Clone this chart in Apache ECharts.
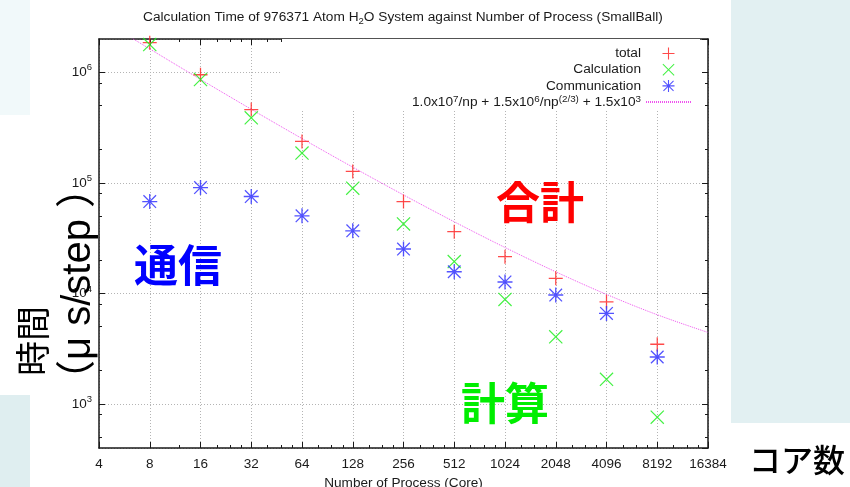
<!DOCTYPE html>
<html>
<head>
<meta charset="utf-8">
<script src="https://cdn.jsdelivr.net/npm/echarts@6/dist/echarts.min.js"></script>
<style>
  html, body { margin: 0; padding: 0; background: #ffffff; }
  #chart { width: 850px; height: 487px; }
</style>
</head>
<body>
<div id="chart"></div>
<script>
// Process counts (cores) and measured time per step in microseconds
const npValues = [8, 16, 32, 64, 128, 256, 512, 1024, 2048, 4096, 8192];
const totalTime = [1.85e6, 9.5e5, 4.6e5, 2.37e5, 1.27e5, 6.77e4, 3.62e4, 2.15e4, 1.37e4, 8.4e3, 3.47e3];
const calcTime  = [1.78e6, 8.6e5, 3.87e5, 1.86e5, 8.96e4, 4.25e4, 1.94e4, 8.83e3, 4.05e3, 1.67e3, 760];
const commTime  = [6.77e4, 9.06e4, 7.52e4, 5.03e4, 3.68e4, 2.52e4, 1.57e4, 1.27e4, 9.67e3, 6.6e3, 2.66e3];

// Model curve 1.0x10^7/np + 1.5x10^6/np^(2/3) + 1.5x10^3 at each power of two
const fitNp   = [4, 8, 16, 32, 64, 128, 256, 512, 1024, 2048, 4096, 8192, 16384];
const fitTime = [3096784, 1626500, 862735, 462819, 251500, 138684, 77768, 44469, 26031, 15684, 9800, 6412, 4435];

// Axis tick values
const xMinorTicks = [12, 20, 24, 28, 40, 48, 56, 80, 96, 112, 160, 192, 224, 320, 384, 448,
                     640, 768, 896, 1280, 1536, 1792, 2560, 3072, 3584, 5120, 6144, 7168,
                     10240, 12288, 14336];
const yMinorTicks = [500, 800, 2000, 5000, 8000, 20000, 50000, 80000, 200000, 500000, 800000];

const seriesNames = ['total', 'Calculation', 'Communication', 'fit'];

const X_MIN = 4, X_MAX = 16384, Y_MIN = 400, Y_MAX = 2e6;
const FONT = '"Liberation Sans", Arial, sans-serif';
const CJK = '"Noto Sans CJK JP", "Noto Sans", sans-serif';
const INK = '#1a1a1a';

const plusPath  = 'path://M0,4.55H10V5.45H0Z M4.55,0H5.45V10H4.55Z';
const crossPath = 'path://M0.6,0L10,9.4L9.4,10L0,0.6Z M9.4,0L10,0.6L0.6,10L0,9.4Z';
const starPath  = 'path://M0,4.55H10V5.45H0Z M4.55,0H5.45V10H4.55Z M1.1,0.5L9.5,8.9L8.9,9.5L0.5,1.1Z M8.9,0.5L9.5,1.1L1.1,9.5L0.5,8.9Z';

function pairs(xs, ys) { return xs.map((x, i) => [x, ys[i]]); }

function xAxisBase(extra) {
  return Object.assign({
    type: 'log', logBase: 2, min: X_MIN, max: X_MAX, interval: 1, splitNumber: 12,
    gridIndex: 0
  }, extra);
}
function yAxisBase(extra) {
  return Object.assign({
    type: 'log', logBase: 10, min: Y_MIN, max: Y_MAX, gridIndex: 0
  }, extra);
}

const hidden = { show: false };
const majorTick = { show: true, inside: true, length: 6, lineStyle: { color: INK, width: 1 } };

const chart = echarts.init(document.getElementById('chart'), null, { renderer: 'canvas' });

chart.setOption({
  animation: false,
  backgroundColor: '#ffffff',
  title: {
    text: 'Calculation Time of 976371 Atom H{sub|2}O System against Number of Process (SmallBall)',
    left: 143,
    top: 9,
    padding: 0,
    textStyle: {
      fontFamily: FONT, fontSize: 13.7, fontWeight: 'normal', color: INK,
      rich: { sub: { fontFamily: FONT, fontSize: 9.5, color: INK, verticalAlign: 'bottom', padding: [7, 0, 0, 0] } }
    }
  },
  legend: {
    orient: 'vertical',
    align: 'right',
    right: 150,
    top: 39,
    padding: [7, 8, 0, 130],
    backgroundColor: '#ffffff',
    itemWidth: 45,
    itemHeight: 12,
    itemGap: 1.2,
    selectedMode: false,
    data: [
      seriesNames[0], seriesNames[1], seriesNames[2],
      { name: seriesNames[3], itemStyle: { opacity: 0, color: 'transparent', borderColor: 'transparent' } }
    ],
    formatter: function (name) {
      if (name === 'fit') {
        return '1.0x10{sup|7}/np + 1.5x10{sup|6}/np{sup|(2/3)} + 1.5x10{sup|3}';
      }
      return name;
    },
    textStyle: {
      fontFamily: FONT, fontSize: 13.7, color: INK, lineHeight: 15,
      rich: { sup: { fontFamily: FONT, fontSize: 9.8, color: INK, verticalAlign: 'top', lineHeight: 15 } }
    }
  },
  grid: { left: 99, right: 142, top: 39, bottom: 39, containLabel: false, outerBoundsMode: 'none' },
  xAxis: [
    xAxisBase({
      position: 'bottom',
      name: 'Number of Process (Core)',
      nameLocation: 'middle',
      nameGap: 26,
      nameTextStyle: { fontFamily: FONT, fontSize: 13.6, color: INK },
      axisLine: { show: true, lineStyle: { color: INK, width: 1.5 } },
      axisTick: majorTick,
      axisLabel: {
        show: true, margin: 9, fontFamily: FONT, fontSize: 13.5, color: INK,
        formatter: function (v) { return String(Math.round(v)); }
      },
      splitLine: { show: true, lineStyle: { type: [1, 2], color: '#b4b4b4', width: 1 } },
      minorTick: hidden
    }),
    xAxisBase({
      position: 'top',
      axisLine: { show: true, lineStyle: { color: INK, width: 1.5 } },
      axisTick: majorTick,
      axisLabel: hidden, splitLine: hidden
    }),
    xAxisBase({
      position: 'bottom',
      axisLine: hidden,
      axisTick: { show: true, inside: true, length: 3, customValues: xMinorTicks, lineStyle: { color: INK, width: 1 } },
      axisLabel: hidden, splitLine: hidden
    }),
    xAxisBase({
      position: 'top',
      axisLine: hidden,
      axisTick: { show: true, inside: true, length: 3, customValues: xMinorTicks, lineStyle: { color: INK, width: 1 } },
      axisLabel: hidden, splitLine: hidden
    })
  ],
  yAxis: [
    yAxisBase({
      position: 'left',
      axisLine: { show: true, lineStyle: { color: INK, width: 1.5 } },
      axisTick: majorTick,
      axisLabel: {
        show: true, margin: 7, showMinLabel: false, showMaxLabel: false,
        fontFamily: FONT, fontSize: 13.5, color: INK,
        formatter: function (v) { return '10{sup|' + Math.round(Math.log10(v)) + '}'; },
        rich: { sup: { fontFamily: FONT, fontSize: 9.5, color: INK, verticalAlign: 'top', lineHeight: 19 } }
      },
      splitLine: { show: true, lineStyle: { type: [1, 2], color: '#b4b4b4', width: 1 } }
    }),
    yAxisBase({
      position: 'right',
      axisLine: { show: true, lineStyle: { color: INK, width: 1.5 } },
      axisTick: majorTick,
      axisLabel: hidden, splitLine: hidden
    }),
    yAxisBase({
      position: 'left',
      axisLine: hidden,
      axisTick: { show: true, inside: true, length: 3, customValues: yMinorTicks, lineStyle: { color: INK, width: 1 } },
      axisLabel: hidden, splitLine: hidden
    }),
    yAxisBase({
      position: 'right',
      axisLine: hidden,
      axisTick: { show: true, inside: true, length: 3, customValues: yMinorTicks, lineStyle: { color: INK, width: 1 } },
      axisLabel: hidden, splitLine: hidden
    })
  ],
  series: [
    {
      name: 'total', type: 'scatter', xAxisIndex: 0, yAxisIndex: 0,
      symbol: plusPath, symbolSize: 14, symbolKeepAspect: true,
      itemStyle: { color: '#ff2a2a', opacity: 0.85 },
      data: pairs(npValues, totalTime), z: 3
    },
    {
      name: 'Calculation', type: 'scatter', xAxisIndex: 0, yAxisIndex: 0,
      symbol: crossPath, symbolSize: 14, symbolKeepAspect: true,
      itemStyle: { color: '#22ee22', opacity: 0.85 },
      data: pairs(npValues, calcTime), z: 3
    },
    {
      name: 'Communication', type: 'scatter', xAxisIndex: 0, yAxisIndex: 0,
      symbol: starPath, symbolSize: 15, symbolKeepAspect: true,
      itemStyle: { color: '#3535ff', opacity: 0.85 },
      data: pairs(npValues, commTime), z: 3
    },
    {
      name: 'fit', type: 'line', xAxisIndex: 0, yAxisIndex: 0,
      symbol: 'none', showSymbol: false, smooth: 0.35, clip: true,
      lineStyle: { color: '#ee55ee', width: 1, type: [1, 1] },
      itemStyle: { color: '#ee55ee' },
      data: pairs(fitNp, fitTime), z: 2
    }
  ],
  graphic: [
    { type: 'rect', z: -10, silent: true, shape: { x: 0, y: 0, width: 30, height: 115 }, style: { fill: '#f1f9fa' } },
    { type: 'rect', z: -10, silent: true, shape: { x: 0, y: 395, width: 30, height: 92 }, style: { fill: '#dfeef0' } },
    { type: 'rect', z: -10, silent: true, shape: { x: 731, y: 0, width: 119, height: 423 }, style: { fill: '#e2f0f2' } },
    {
      type: 'text', z: 20, silent: true, x: 540, y: 202,
      style: { text: '合計', font: 'bold 44px ' + CJK, fill: '#ff0000', align: 'center', verticalAlign: 'middle' }
    },
    {
      type: 'text', z: 20, silent: true, x: 178, y: 265,
      style: { text: '通信', font: 'bold 44px ' + CJK, fill: '#0000ff', align: 'center', verticalAlign: 'middle' }
    },
    {
      type: 'text', z: 20, silent: true, x: 505, y: 403,
      style: { text: '計算', font: 'bold 44px ' + CJK, fill: '#00ee00', align: 'center', verticalAlign: 'middle' }
    },
    {
      type: 'text', z: 20, silent: true, x: 797, y: 460,
      style: { text: 'コア数', font: '500 32px ' + CJK, fill: '#000000', align: 'center', verticalAlign: 'middle' }
    },
    {
      type: 'text', z: 20, silent: true, x: 33, y: 376, rotation: Math.PI / 2,
      style: { text: '時間', font: '35px ' + CJK, fill: '#000000', align: 'left', verticalAlign: 'middle' }
    },
    {
      type: 'text', z: 20, silent: true, x: 79, y: 400, rotation: Math.PI / 2,
      style: { text: '（μ s/step ）', font: '40px "Liberation Sans", "Noto Sans CJK JP", sans-serif', fill: '#000000', align: 'left', verticalAlign: 'middle' }
    }
  ]
});
</script>
</body>
</html>
